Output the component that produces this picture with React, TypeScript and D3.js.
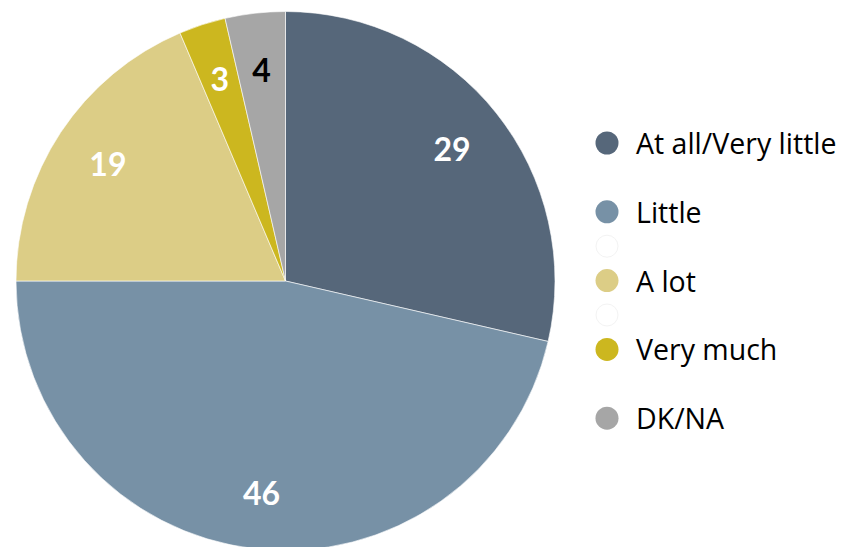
import React from "react";
import * as d3 from "d3";

const categories = ["At all/Very little", "Little", "A lot", "Very much", "DK/NA"];
const values = [28.6, 46.4, 18.6, 2.8, 3.6];
const labels = ["29", "46", "19", "3", "4"];
const colors = ["#56677a", "#7791a6", "#dccd86", "#ccb71f", "#a6a6a6"];
const labelColors = ["#ffffff", "#ffffff", "#ffffff", "#ffffff", "#000000"];
// legend entries: [category index or null for empty spacer, slot in half-rows]
const legendItems: [number | null, number][] = [
  [0, 0],
  [1, 2],
  [null, 3],
  [2, 4],
  [null, 5],
  [3, 6],
  [4, 8],
];

const W = 842;
const H = 547;
const cx = 285.5;
const cy = 281;
const R = 269.5;

export default function App() {
  const pie = d3.pie<number>().sort(null).value((d) => d)(values);
  const arc = d3.arc<d3.PieArcDatum<number>>().innerRadius(0).outerRadius(R);
  const labelArc = d3
    .arc<d3.PieArcDatum<number>>()
    .innerRadius(R * 0.79)
    .outerRadius(R * 0.79);

  const legendY = d3.scaleLinear().domain([0, 1]).range([143, 177.4]);

  return (
    <svg
      width={W}
      height={H}
      style={{ position: "absolute", left: 0, top: 0, background: "#fff" }}
    >
      <g transform={`translate(${cx},${cy})`}>
        {pie.map((p, i) => (
          <path key={i} d={arc(p) || ""} fill={colors[i]} stroke="#ffffff" strokeWidth={0.6} />
        ))}
        {pie.map((p, i) => {
          const [x, y] = labelArc.centroid(p);
          return (
            <text
              key={"l" + i}
              x={x}
              y={y}
              textAnchor="middle"
              dominantBaseline="central"
              fontFamily="Lato, 'Open Sans', sans-serif"
              fontWeight={700}
              fontSize={32}
              fill={labelColors[i]}
            >
              {labels[i]}
            </text>
          );
        })}
      </g>
      <g>
        {legendItems.map(([item, slot], k) => {
          const y = legendY(slot);
          if (item === null) {
            return (
              <circle key={"e" + k} cx={607} cy={y} r={11} fill="#ffffff" stroke="#f3f3f3" strokeWidth={1} />
            );
          }
          return (
            <g key={"g" + k}>
              <circle cx={607} cy={y} r={11.5} fill={colors[item]} />
              <text
                x={636}
                y={y}
                dominantBaseline="central"
                fontFamily="'Open Sans', sans-serif"
                fontSize={28.5}
                fill="#000000"
              >
                {categories[item]}
              </text>
            </g>
          );
        })}
      </g>
    </svg>
  );
}
